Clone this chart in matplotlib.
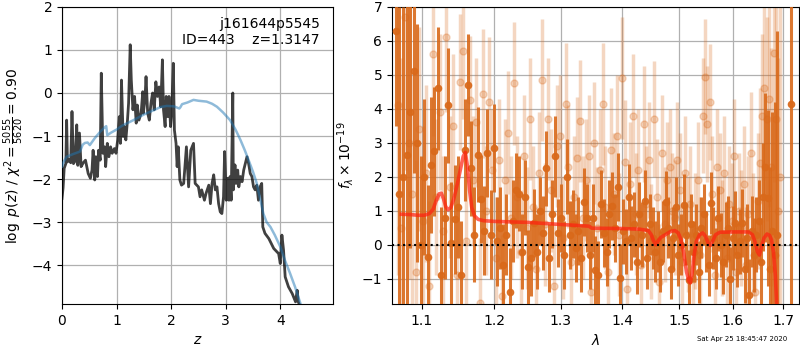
import numpy as np
import matplotlib
matplotlib.use("Agg")
import matplotlib.pyplot as plt
from matplotlib.ticker import FixedLocator, FormatStrFormatter, NullLocator

# ---------------- redshift probability ----------------
z_pz = [0.00, 0.02, 0.04, 0.07, 0.085, 0.10, 0.13, 0.16, 0.183, 0.21, 0.24, 0.27, 0.29, 0.32,
        0.35, 0.39, 0.43, 0.48, 0.52, 0.55, 0.57, 0.60, 0.62, 0.65, 0.67, 0.70, 0.72, 0.75,
        0.78, 0.80, 0.83, 0.86, 0.89, 0.92, 0.96, 0.99, 1.02, 1.05, 1.07, 1.09, 1.12, 1.14,
        1.17, 1.20, 1.22, 1.25, 1.27, 1.30, 1.33, 1.36, 1.38, 1.41, 1.45, 1.48, 1.49, 1.52,
        1.54, 1.57, 1.60, 1.63, 1.66, 1.69, 1.72, 1.75, 1.78, 1.81, 1.84, 1.86, 1.89, 1.91,
        1.94, 1.96, 1.99, 2.01, 2.04, 2.06, 2.09, 2.11, 2.13, 2.16, 2.19, 2.23, 2.28, 2.32,
        2.36, 2.41, 2.44, 2.50, 2.53, 2.56, 2.61, 2.64, 2.69, 2.72, 2.75, 2.78, 2.81, 2.84,
        2.87, 2.90, 2.93, 2.96, 2.98, 3.01, 3.03, 3.06, 3.08, 3.10, 3.13, 3.14, 3.17, 3.19,
        3.22, 3.24, 3.27, 3.30, 3.33, 3.36, 3.39, 3.42, 3.45, 3.48, 3.51, 3.54, 3.57, 3.60,
        3.63, 3.66, 3.68, 3.72, 3.79, 3.88, 3.97, 4.00, 4.03, 4.06, 4.09, 4.15, 4.22, 4.28,
        4.31, 4.33, 4.37]
logp = [-2.45, -2.20, -1.75, -1.64, -0.63, -1.60, -1.55, -1.62, -0.43, -1.64, -1.58, -0.74,
        -1.68, -0.93, -1.71, -1.62, -1.56, -1.87, -1.98, -1.79, -1.33, -2.02, -1.48, -1.94,
        -1.33, -1.56, 0.46, -1.40, -1.25, -1.71, -1.17, -1.48, -1.25, -1.40, -1.29, -1.40,
        -1.09, -0.55, -1.17, 0.30, -1.01, -0.78, -1.09, -0.63, -0.24, 1.12, 0.30, -0.39,
        -0.08, -0.70, -0.28, -0.63, -0.47, 0.03, -0.47, -0.16, 0.38, -0.47, -0.63, -0.24,
        0.00, -0.39, 0.26, -0.08, 0.14, -0.32, 0.77, -0.39, -0.78, -0.08, -0.55, -0.08,
        -0.78, -0.47, 0.69, -0.86, -1.17, -1.71, -1.25, -2.02, -2.14, -2.10, -1.25, -2.18,
        -1.33, -1.17, -2.10, -2.18, -2.41, -2.25, -2.49, -2.33, -2.14, -2.57, -2.10, -1.90,
        -2.25, -2.18, -2.57, -2.76, -2.80, -2.41, -1.36, -2.49, -1.98, -2.49, -1.94, -2.49,
        0.00, -2.25, -1.67, -2.10, -1.79, -2.18, -1.94, -2.06, -1.79, -1.64, -1.48, -1.64,
        -1.87, -1.94, -2.18, -2.25, -2.14, -2.49, -2.18, -2.10, -3.11, -3.26, -3.38, -3.61,
        -3.73, -3.96, -3.30, -3.65, -4.27, -4.50, -4.66, -4.85, -4.58, -4.85, -4.97]

z_prior = [0.00, 0.03, 0.086, 0.20, 0.33, 0.38, 0.42, 0.47, 0.51, 0.60, 0.70, 0.78, 0.81,
           0.83, 0.90, 1.00, 1.10, 1.31, 1.50, 1.68, 1.80, 1.92, 2.05, 2.15, 2.17, 2.20,
           2.30, 2.41, 2.50, 2.65, 2.75, 2.84, 2.95, 3.08, 3.18, 3.27, 3.35, 3.42, 3.50,
           3.57, 3.63, 3.69, 3.75, 3.82, 3.90, 4.00, 4.09, 4.18, 4.27, 4.37]
logp_prior = [-1.71, -1.60, -1.48, -1.42, -1.36, -1.20, -1.16, -1.15, -1.21, -1.05, -0.90,
              -0.80, -0.77, -0.98, -0.92, -0.85, -0.76, -0.63, -0.50, -0.40, -0.33, -0.30,
              -0.31, -0.36, -0.33, -0.26, -0.22, -0.16, -0.18, -0.20, -0.25, -0.32, -0.45,
              -0.63, -0.85, -1.09, -1.33, -1.56, -1.83, -2.10, -2.45, -2.80, -3.00, -3.11,
              -3.30, -3.57, -3.90, -4.19, -4.50, -4.89]

# ---------------- 1D spectrum ----------------
# grism pixel grid (microns): first wavelength and dispersion step
lam_a0, lam_b0, dlam = 1.066, 1.0686, 0.0046

flux_a = [6.3, 1.5, 2.0, 2.65, 3.9, 5.1, 3.0, 0.0, 2.0, -0.35,
          2.35, 2.75, 4.6, -0.9, 0.8, 4.1, 0.05, 0.75, 1.1, -0.9,
          2.8, 4.7, 2.25, 0.3, 2.65, 1.35, 0.42, 2.7, 0.3, 2.85,
          0.1, 0.5, -0.6, 0.3, -1.4, 0.7, 1.6, 1.5, -0.2, 1.4,
          -0.65, -0.4, 0.65, -0.2, 1.0, 0.35, 2.25, -0.4, 0.9, 2.6,
          0.35, 0.8, -0.3, 2.0, 0.3, 0.6, -0.1, 0.4, -0.4, 1.25,
          0.8, -0.3, 0.8, -0.75, -0.9, 1.2, 0.35, -0.2, 0.9, 1.13,
          0.5, 1.69, -0.98, 0.4, 0.1, 1.42, 0.2, 0.6, -0.5, 0.9,
          0.3, 1.3, -0.4, 0.6, 0.2, -0.2, 0.1, -0.5, 0.4, 1.27,
          0.5, -0.7, 0.2, 1.1, -0.3, 0.0, 1.18, 0.3, -1.04, 0.6,
          -0.2, 0.3, -0.8, 0.5, 0.9, 0.1, -0.6, 1.23, 0.2, -0.4,
          0.78, 0.0, -0.5, 0.3, 0.5, -1.0, 0.2, 0.64, -0.3, 0.1,
          0.64, -0.7, 0.2, -1.47, 0.4, -0.3, 0.3, 0.7, -0.5, 1.41,
          2.28, 1.38, -0.72, 0.4, -0.3, 0.3]
err_a = [2.8, 5.5, 5.0, 4.5, 4.0, 3.0, 3.5, 2.6, 2.3, 2.1,
         2.0, 1.9, 1.8, 2.0, 1.8, 1.7, 1.8, 1.6, 1.5, 1.6,
         1.5, 1.5, 1.4, 1.4, 1.4, 1.3, 1.3, 1.3, 1.3, 1.3,
         1.3, 1.2, 1.2, 1.2, 1.3, 1.2, 1.1, 1.1, 1.1, 1.1,
         1.1, 1.1, 1.0, 1.1, 1.0, 1.1, 1.1, 1.0, 1.0, 1.2,
         1.0, 1.0, 1.0, 1.1, 1.0, 1.0, 1.0, 1.0, 1.0, 1.0,
         1.0, 1.0, 1.0, 1.0, 1.0, 1.0, 1.0, 1.0, 1.0, 1.0,
         1.0, 1.0, 1.0, 0.95, 0.95, 0.95, 0.95, 0.95, 0.95, 0.95,
         0.95, 0.9, 0.9, 0.9, 0.9, 0.9, 0.9, 0.9, 0.9, 0.9,
         0.9, 0.9, 0.9, 0.9, 0.9, 0.9, 0.9, 0.9, 0.9, 0.9,
         0.9, 0.9, 0.9, 0.9, 0.9, 0.9, 0.9, 0.9, 0.9, 0.9,
         0.95, 0.95, 0.95, 0.95, 0.95, 0.95, 0.95, 0.95, 0.95, 0.95,
         1.0, 1.0, 1.0, 1.05, 1.05, 1.1, 1.1, 1.2, 1.3, 1.6,
         2.2, 2.6, 3.0, 3.5, 4.5, 6.0]

flux_b = [4.1, 0.5, 6.7, 3.0, 1.5, -0.8, 3.4, 0.7, 2.1, -1.2,
          5.6, 1.4, 3.9, 0.4, 6.1, 1.7, 3.5, -0.9, 4.8, 5.7,
          0.1, 4.25, 1.9, 3.6, -1.7, 4.45, 1.0, 4.2, 2.2, -0.4,
          2.5, -1.5, 1.9, 3.3, 0.8, 4.75, 1.4, -0.2, 2.6, 0.5,
          3.7, 1.1, -0.7, 2.1, 4.85, 0.6, 3.7, 1.6, -1.2, 2.9,
          3.2, 0.2, 4.15, 2.3, -0.5, 1.4, 2.55, 3.65, 0.8, 1.9,
          2.6, -1.4, 3.0, 0.5, 2.2, 4.15, 1.1, -0.8, 2.8, 1.5,
          3.2, 0.3, 4.9, 2.45, -1.3, 1.8, 3.8, 0.9, 2.2, -0.6,
          3.55, 1.2, 2.5, 0.1, 3.7, 1.4, -1.1, 2.7, 0.6, 1.9,
          2.3, 1.0, 0.8, 2.5, 1.6, -0.5, 2.1, 0.3, 1.2, -1.0,
          0.4, 1.9, -0.3, 3.8, 4.95, 3.55, 4.2, 1.5, -0.9, 2.3,
          1.6, 0.2, 2.1, -0.4, 1.2, 0.7, 2.6, -0.8, 1.0, 0.5,
          1.8, -0.6, 0.9, 2.7, 0.3, -1.4, 1.3, 2.4, 3.8, 4.6,
          3.7, 4.3, 2.3, 5.65, 3.7, 1.0, 2.0]
err_b = [5.0, 5.0, 4.5, 4.0, 3.5, 3.3, 3.0, 2.8, 2.6, 2.5,
         2.4, 2.3, 2.3, 2.2, 2.2, 2.1, 2.1, 2.0, 2.0, 2.0,
         2.0, 1.9, 1.9, 1.9, 1.9, 1.9, 1.9, 1.9, 1.8, 1.8,
         1.8, 1.8, 1.8, 1.8, 1.8, 1.8, 1.8, 1.8, 1.8, 1.8,
         1.8, 1.8, 1.8, 1.8, 1.8, 1.8, 1.8, 1.8, 1.8, 1.8,
         1.8, 1.8, 1.8, 1.8, 1.8, 1.8, 1.8, 1.8, 1.8, 1.8,
         1.8, 1.8, 1.8, 1.8, 1.8, 1.8, 1.8, 1.8, 1.8, 1.8,
         1.8, 1.8, 1.8, 1.8, 1.8, 1.8, 1.8, 1.8, 1.8, 1.8,
         1.7, 1.7, 1.7, 1.7, 1.7, 1.7, 1.7, 1.7, 1.7, 1.7,
         1.7, 1.7, 1.7, 1.7, 1.7, 1.7, 1.7, 1.7, 1.7, 1.7,
         1.7, 1.7, 1.7, 1.7, 1.7, 1.7, 1.7, 1.7, 1.7, 1.7,
         1.7, 1.7, 1.7, 1.7, 1.7, 1.7, 1.7, 1.7, 1.7, 1.7,
         1.7, 1.7, 1.7, 1.8, 1.8, 1.9, 2.0, 2.2, 2.4, 2.7,
         3.0, 3.2, 3.5, 3.8, 4.0, 4.5, 5.0]

# last red pixel, very noisy
lam_edge, flux_edge, err_edge = [1.716], [4.15], [12.0]

lam_model = [1.073, 1.085, 1.095, 1.103, 1.110, 1.115, 1.119, 1.123, 1.126, 1.129, 1.132,
             1.135, 1.139, 1.143, 1.148, 1.152, 1.156, 1.159, 1.162, 1.165, 1.168, 1.172,
             1.177, 1.185, 1.200, 1.250, 1.300, 1.345, 1.350, 1.400, 1.430, 1.445, 1.450,
             1.454, 1.458, 1.462, 1.467, 1.475, 1.485, 1.492, 1.498, 1.503, 1.508, 1.513,
             1.517, 1.520, 1.523, 1.527, 1.531, 1.537, 1.543, 1.548, 1.553, 1.557, 1.561,
             1.567, 1.575, 1.600, 1.630, 1.638, 1.643, 1.648, 1.652, 1.656, 1.661, 1.667,
             1.672, 1.676, 1.680, 1.684, 1.687]
flux_model = [0.90, 0.89, 0.87, 0.87, 0.92, 1.05, 1.30, 1.50, 1.52, 1.35, 1.12,
              1.03, 1.10, 1.35, 1.80, 2.20, 2.60, 2.72, 2.30, 1.60, 1.10, 0.85,
              0.75, 0.71, 0.69, 0.66, 0.60, 0.55, 0.49, 0.48, 0.46, 0.42, 0.30,
              0.12, 0.00, 0.12, 0.22, 0.30, 0.40, 0.42, 0.35, 0.15, -0.25, -0.80,
              -1.05, -1.12, -0.85, -0.30, 0.10, 0.30, 0.35, 0.25, 0.05, -0.02, 0.10,
              0.30, 0.37, 0.38, 0.38, 0.30, 0.10, -0.20, -0.30, -0.05, 0.20, 0.32,
              0.28, 0.15, -0.20, -0.90, -1.90]

lam_ticks = [1.1, 1.2, 1.3, 1.4, 1.5, 1.6, 1.7]

orange = '#d9691a'

fig = plt.figure(figsize=(8, 3.5), dpi=100)
ax1 = fig.add_axes([0.0775, 0.1314, 0.339, 0.849])
ax2 = fig.add_axes([0.49, 0.1314, 0.509, 0.849])

# left: p(z)
ax1.plot(z_pz, logp, color='k', alpha=0.75, lw=2, zorder=3)
ax1.plot(z_prior, logp_prior, color='#1f77b4', alpha=0.5, lw=1.8, zorder=4)
ax1.set_xlim(0, 4.97)
ax1.set_ylim(-4.9, 2)
ax1.set_xticks([0, 1, 2, 3, 4])
ax1.set_yticks([-4, -3, -2, -1, 0, 1, 2])
ax1.grid(True, color='#b0b0b0', lw=0.9)
ax1.set_axisbelow(True)
ax1.set_xlabel(r'$z$')
ax1.set_ylabel(r'$\log\ p(z)$ / $\chi^2=\frac{5055}{5620}=0.90$')
ax1.text(0.95, 0.965, 'j161644p5545\nID=443    z=1.3147', transform=ax1.transAxes,
         ha='right', va='top', fontsize=10)

# right: spectrum
lam_a = lam_a0 + dlam * np.arange(len(flux_a))
lam_b = lam_b0 + dlam * np.arange(len(flux_b))
ax2.errorbar(lam_b, flux_b, yerr=err_b, fmt='o', color=orange, alpha=0.27,
             markersize=5, elinewidth=2.5, capsize=0, zorder=2)
ax2.errorbar(lam_a, flux_a, yerr=err_a, fmt='o', color=orange, alpha=0.9,
             markersize=4.5, elinewidth=2.2, capsize=0, zorder=3)
ax2.errorbar(lam_edge, flux_edge, yerr=err_edge, fmt='o', color=orange, alpha=0.9,
             markersize=4.5, elinewidth=2.2, capsize=0, zorder=3)
ax2.plot(lam_model, flux_model, color='#ff2010', alpha=0.7, lw=2.6, zorder=5)
ax2.axhline(0, color='k', linestyle=':', lw=1.5, zorder=6)

ax2.set_xscale('log')
ax2.set_xlim(1.061, 1.733)
ax2.set_ylim(-1.74, 7)
ax2.xaxis.set_major_locator(FixedLocator(lam_ticks))
ax2.xaxis.set_major_formatter(FormatStrFormatter('%.1f'))
ax2.xaxis.set_minor_locator(NullLocator())
ax2.set_yticks([-1, 0, 1, 2, 3, 4, 5, 6, 7])
ax2.grid(True, color='#b0b0b0', lw=0.9)
ax2.set_axisbelow(True)
ax2.set_xlabel(r'$\lambda$')
ax2.set_ylabel(r'$f_\lambda\times10^{-19}$')

fig.text(0.984, 0.022, 'Sat Apr 25 18:45:47 2020', ha='right', va='bottom', fontsize=5)

fig.savefig('out.png', dpi=100)
